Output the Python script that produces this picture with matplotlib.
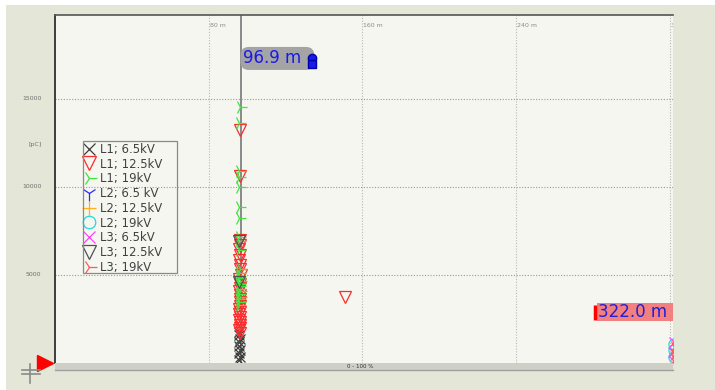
import matplotlib
matplotlib.use("Agg")
import matplotlib.pyplot as plt
from matplotlib.patches import Rectangle
from matplotlib.lines import Line2D

# Datos (distancia en m, carga en pC)
etiquetas = ["L1; 6.5kV", "L1; 12.5kV", "L1; 19kV",
             "L2; 6.5 kV", "L2; 12.5kV", "L2; 19kV",
             "L3; 6.5kV", "L3; 12.5kV", "L3; 19kV"]

l1_65_x = [96.0, 96.2, 95.8, 96.1, 96.0, 95.9, 96.2, 96.0, 95.9]
l1_65_y = [150, 350, 550, 750, 950, 1150, 1350, 1550, 1750]

l1_125_x = [96.3, 96.1, 96.2, 96.5, 95.9, 96.3, 96.0, 96.4, 96.1, 96.6, 95.8, 96.2,
            96.4, 96.0, 96.3, 96.5, 96.1, 96.2, 95.9, 96.3, 96.0, 96.4, 95.8, 96.2,
            96.1, 96.5, 96.0, 96.3, 151.0]
l1_125_y = [13250, 10600, 6950, 6700, 6450, 6150, 5850, 5550, 5300, 5000, 4750, 4500,
            4250, 4050, 3850, 3650, 3450, 3250, 3050, 2900, 2750, 2600, 2450, 2300,
            2150, 2000, 1850, 1700, 3730]

l1_19_x = [96.3, 95.8, 95.6, 96.0, 95.7, 95.9, 95.6, 95.8, 96.0, 95.7, 96.1, 95.8,
           96.0, 95.9, 96.2, 95.7, 96.0, 95.9, 96.1, 95.8, 96.2, 95.7, 96.0, 95.9]
l1_19_y = [14550, 13650, 10900, 10550, 10000, 8850, 8250, 7150, 6900, 6400, 5300, 5100,
           4950, 4800, 4650, 4500, 4350, 4200, 4050, 3900, 3750, 3600, 3450, 3300]

l2_65_x, l2_65_y = [], []
l2_125_x, l2_125_y = [], []

l2_19_x = [322.2, 322.4, 322.1]
l2_19_y = [300, 700, 1050]

l3_65_x = [322.3, 322.0, 322.4]
l3_65_y = [100, 600, 1150]

l3_125_x = [96.0, 95.9]
l3_125_y = [6900, 4600]

l3_19_x = [322.1, 322.3, 322.2]
l3_19_y = [200, 500, 900]

cursor_1 = 96.9
cursor_2 = 322.0

x_ticks = [80, 160, 240, 320]
y_ticks = [5000, 10000, 15000]
x_max = 321.8
y_max = 19770

series = [
    (l1_65_x, l1_65_y, "x", "#3c3c3c", 7),
    (l1_125_x, l1_125_y, "v", "#ff2a2a", 9),
    (l1_19_x, l1_19_y, "4", "#3ee63e", 10),
    (l2_65_x, l2_65_y, "1", "#2a2aff", 10),
    (l2_125_x, l2_125_y, "+", "#ffb020", 9),
    (l2_19_x, l2_19_y, "o", "#20dada", 8),
    (l3_65_x, l3_65_y, "x", "#ff40ff", 7),
    (l3_125_x, l3_125_y, "v", "#505050", 9),
    (l3_19_x, l3_19_y, "4", "#ff5a5a", 10),
]

fig = plt.figure(figsize=(7.15, 3.9), dpi=100)
fig.patch.set_facecolor("#e4e6d7")
W, H = 715.0, 390.0

# Borde blanco arriba e izquierda
fig.patches.append(Rectangle((0, 1 - 5 / H), 1, 5 / H, transform=fig.transFigure,
                             facecolor="white", edgecolor="none", zorder=0))
fig.patches.append(Rectangle((0, 0), 6 / W, 1, transform=fig.transFigure,
                             facecolor="white", edgecolor="none", zorder=0))

ax = fig.add_axes([55 / W, 1 - 362.7 / H, (673 - 55) / W, (362.7 - 15) / H])
ax.set_facecolor("#f6f6f0")
ax.set_xlim(0, x_max)
ax.set_ylim(0, y_max)

for s in ["right", "bottom"]:
    ax.spines[s].set_visible(False)
ax.spines["left"].set_color("#202020")
ax.spines["left"].set_linewidth(1.2)
ax.spines["top"].set_color("#555555")
ax.spines["top"].set_linewidth(1.2)
ax.set_xticks([])
ax.set_yticks([])

# Rejilla punteada
for xv in x_ticks:
    ax.axvline(xv, color="#b8b8b8", lw=0.8, ls=(0, (1, 1.5)), zorder=1)
    ax.text(xv + 0.6, 0.97, "%d m" % xv, transform=ax.get_xaxis_transform(),
            fontsize=4.5, color="#8a8a8a", ha="left", va="center", clip_on=True)
for yv in y_ticks:
    ax.axhline(yv, color="#9a9a9a", lw=0.8, ls=(0, (1, 1.5)), zorder=1)
    ax.text(-0.022, yv, str(yv), transform=ax.get_yaxis_transform(),
            fontsize=4.5, color="#707070", ha="right", va="center")
ax.text(-0.022, 0, "0", transform=ax.get_yaxis_transform(),
        fontsize=4.5, color="#707070", ha="right", va="center")
ax.text(-0.022, 12400, "[pC]", transform=ax.get_yaxis_transform(),
        fontsize=4.5, color="#707070", ha="right", va="center")

# Cursor
ax.axvline(cursor_1, color="#8a8a8a", lw=1.4, zorder=2)

handles = []
for xs, ys, mk, col, ms in series:
    ax.plot(xs, ys, ls="none", marker=mk, ms=ms, mfc="none", mec=col,
            mew=0.9, zorder=3)
    handles.append(Line2D([], [], ls="none", marker=mk, ms=ms + 1, mfc="none",
                          mec=col, mew=0.9))

leg = ax.legend(handles, etiquetas, loc="upper left",
                bbox_to_anchor=(83 / W, 1 - 141 / H), bbox_transform=fig.transFigure,
                fontsize=8.4, frameon=False,
                handlelength=0.8, handletextpad=0.5,
                labelspacing=0.15, borderpad=0.15, borderaxespad=0)
for t in leg.get_texts():
    t.set_color("#404040")
# Marco de la leyenda
fig.patches.append(Rectangle((83 / W, 1 - 273 / H), (177 - 83) / W, (273 - 141) / H,
                             transform=fig.transFigure, facecolor="none",
                             edgecolor="#8a8a8a", lw=0.9, zorder=4))

# Etiqueta del cursor 1
ax.text(cursor_1 + 1.0, 17300, "96.9 m  ", fontsize=12, color="#1a1ae6",
        ha="left", va="center", zorder=5,
        bbox=dict(boxstyle="round,pad=0.15,rounding_size=0.5",
                  facecolor="#a4a4a4", edgecolor="none"))
ax.plot([cursor_1 + 36.8], [17350], marker="o", ms=6, mfc="#1a1ae6",
        mec="#0000aa", zorder=6)
ax.plot([cursor_1 + 36.8], [17000], marker="s", ms=6, mfc="#1a1ae6",
        mec="#0000aa", zorder=6)

# Etiqueta del cursor 2
ax.text(cursor_2 - 39.5, 2880, "322.0 m  ", fontsize=12, color="#2020d0",
        ha="left", va="center", zorder=5, clip_on=True,
        bbox=dict(boxstyle="square,pad=0.02", facecolor="#f28080",
                  edgecolor="none"))
ax.plot([cursor_2 - 40.6, cursor_2 - 40.6], [2450, 3300], color="#ff0000",
        lw=2.5, zorder=6, solid_capstyle="butt")

# Barra de desplazamiento inferior
fig.patches.append(Rectangle((55 / W, 1 - 370 / H), (673 - 55) / W, 7.3 / H,
                             transform=fig.transFigure, facecolor="#cfcfc8",
                             edgecolor="none", zorder=1))
fig.add_artist(Line2D([55 / W, 673 / W], [1 - 370 / H, 1 - 370 / H],
                      color="#a0a0a0", lw=1))
fig.text(360 / W, 1 - 366.5 / H, "0 - 100 %", fontsize=4, color="#303030",
         ha="center", va="center")

# Triangulo rojo en el origen y cruz
ax.plot([-0.016], [0.0], transform=ax.transAxes, marker=">", ms=11,
        color="#ff0000", clip_on=False, zorder=6)
fig.add_artist(Line2D([22 / W, 40 / W], [1 - 370 / H, 1 - 370 / H], color="#8a8a8a", lw=1.2))
fig.add_artist(Line2D([22 / W, 40 / W], [1 - 374 / H, 1 - 374 / H], color="#8a8a8a", lw=1.2))
fig.add_artist(Line2D([30 / W, 30 / W], [1 - 364 / H, 1 - 383 / H], color="#8a8a8a", lw=1.2))

fig.savefig("out.png", dpi=100, facecolor=fig.get_facecolor())
